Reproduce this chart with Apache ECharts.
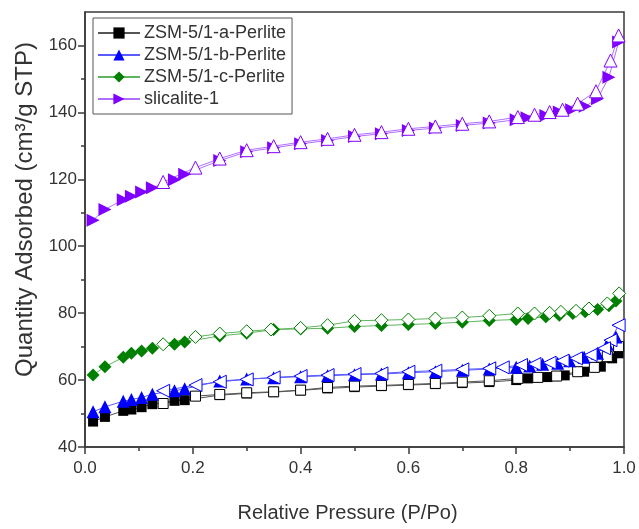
<!DOCTYPE html>
<html>
<head>
<meta charset="utf-8">
<script src="https://cdn.jsdelivr.net/npm/echarts@6/dist/echarts.min.js"></script>
<style>html,body{margin:0;padding:0;background:#fff}#c{width:639px;height:529px}</style>
</head>
<body>
<div id="c"></div>
<script>
// ---- data ----
var seriesNames = ['ZSM-5/1-a-Perlite', 'ZSM-5/1-b-Perlite', 'ZSM-5/1-c-Perlite', 'slicalite-1'];
var xTicks = [0, 0.2, 0.4, 0.6, 0.8, 1.0];
var yTicks = [40, 60, 80, 100, 120, 140, 160];
var yMinorTicks = [50, 70, 90, 110, 130, 150];

var lowP = [0.015, 0.037, 0.071, 0.086, 0.105, 0.125, 0.166, 0.185];
var midP = [0.25, 0.30, 0.35, 0.40, 0.45, 0.50, 0.55, 0.60, 0.65, 0.70, 0.75, 0.80];

// ZSM-5/1-a-Perlite
var aAdsP = lowP.concat(midP, [0.822, 0.858, 0.89, 0.926, 0.957, 0.978, 0.99]);
var aAdsQ = [47.6, 49.0, 50.8, 51.2, 51.9, 52.8, 53.8, 54.0,
             55.5, 56.0, 56.4, 56.9, 57.5, 57.9, 58.2, 58.5, 58.8, 59.1, 59.4, 60.0,
             60.5, 60.9, 61.4, 62.5, 64.0, 66.5, 68.0];
var aDesP = [0.99, 0.969, 0.945, 0.914, 0.875, 0.84, 0.803, 0.75, 0.70, 0.65, 0.60, 0.55, 0.50, 0.45, 0.40, 0.35, 0.30, 0.25, 0.205, 0.145];
var aDesQ = [70.0, 67.0, 63.8, 62.5, 61.2, 60.8, 60.5, 59.8, 59.4, 59.0, 58.7, 58.4, 58.2, 57.8, 57.0, 56.5, 56.2, 55.7, 55.2, 53.0];

// ZSM-5/1-b-Perlite
var bAdsP = lowP.concat(midP, [0.825, 0.849, 0.877, 0.899, 0.926, 0.951, 0.969, 0.985]);
var bAdsQ = [50.5, 52.0, 53.7, 54.2, 54.8, 55.8, 56.8, 57.4,
             59.7, 60.3, 60.7, 61.0, 61.3, 61.6, 61.8, 62.2, 62.5, 62.9, 63.3, 63.8,
             64.2, 64.7, 65.0, 65.8, 66.8, 68.0, 70.7, 72.9];
var bDesP = [0.99, 0.975, 0.963, 0.938, 0.911, 0.886, 0.862, 0.834, 0.809, 0.775, 0.75, 0.70, 0.65, 0.60, 0.55, 0.50, 0.45, 0.40, 0.35, 0.30, 0.25, 0.205, 0.145];
var bDesQ = [76.4, 71.9, 69.5, 67.5, 66.5, 65.8, 65.2, 64.8, 64.5, 63.8, 63.5, 63.2, 62.8, 62.5, 62.0, 61.8, 61.5, 61.2, 60.8, 60.2, 59.5, 58.5, 56.8];

// ZSM-5/1-c-Perlite
var cAdsP = lowP.concat(midP, [0.822, 0.855, 0.88, 0.905, 0.928, 0.951, 0.972, 0.985]);
var cAdsQ = [61.5, 64.0, 66.8, 68.0, 68.7, 69.5, 70.7, 71.4,
             73.2, 74.0, 75.1, 75.3, 75.5, 76.0, 76.3, 76.6, 76.9, 77.3, 77.8, 78.1,
             78.4, 78.9, 79.4, 79.9, 80.4, 81.1, 82.2, 83.6];
var cDesP = [0.991, 0.969, 0.935, 0.911, 0.883, 0.862, 0.834, 0.803, 0.75, 0.70, 0.65, 0.60, 0.55, 0.50, 0.45, 0.40, 0.345, 0.30, 0.25, 0.205, 0.145];
var cDesQ = [85.9, 82.9, 81.4, 80.7, 80.4, 80.1, 79.9, 79.9, 79.2, 78.7, 78.4, 78.1, 77.9, 77.7, 76.4, 75.6, 75.1, 74.6, 73.9, 72.9, 70.7];

// slicalite-1
var sAdsP = lowP.concat(midP, [0.82, 0.855, 0.88, 0.903, 0.928, 0.951, 0.972, 0.99]);
var sAdsQ = [107.8, 111.0, 113.9, 114.9, 116.2, 117.5, 119.9, 121.5,
             125.6, 128.2, 129.4, 130.6, 131.6, 132.8, 133.6, 134.6, 135.3, 136.1, 136.8, 137.8,
             138.4, 139.1, 140.1, 140.8, 141.8, 144.1, 150.5, 161.0];
var sDesP = [0.99, 0.975, 0.948, 0.914, 0.886, 0.862, 0.834, 0.803, 0.75, 0.70, 0.65, 0.60, 0.55, 0.50, 0.45, 0.40, 0.35, 0.30, 0.25, 0.205, 0.145];
var sDesQ = [163.0, 155.5, 146.3, 142.6, 140.8, 140.1, 139.3, 138.6, 137.3, 136.6, 135.8, 135.1, 134.1, 133.3, 132.1, 131.1, 129.9, 128.7, 126.2, 123.5, 119.2];

// ---- build ----
function zip(xs, ys) { return xs.map(function (x, i) { return [x, ys[i]]; }); }

var styles = [
  { line: '#555555', mark: '#000000', ads: 'rect', adsRot: 0, adsSize: 10, des: 'rect', desRot: 0, desSize: 10 },
  { line: '#5a5aff', mark: '#0000ff', ads: 'triangle', adsRot: 0, adsSize: 13, des: 'triangle', desRot: 90, desSize: 13 },
  { line: '#5fb55f', mark: '#007f00', ads: 'diamond', adsRot: 0, adsSize: 13, des: 'diamond', desRot: 0, desSize: 13 },
  { line: '#b070ff', mark: '#8000ff', ads: 'triangle', adsRot: -90, adsSize: 13, des: 'triangle', desRot: 0, desSize: 13 }
];
var adsData = [zip(aAdsP, aAdsQ), zip(bAdsP, bAdsQ), zip(cAdsP, cAdsQ), zip(sAdsP, sAdsQ)];
var desData = [zip(aDesP, aDesQ), zip(bDesP, bDesQ), zip(cDesP, cDesQ), zip(sDesP, sDesQ)];

var series = [];
seriesNames.forEach(function (name, i) {
  var s = styles[i];
  series.push({
    name: name, type: 'line', data: adsData[i],
    symbol: s.ads, symbolSize: s.adsSize, symbolRotate: s.adsRot, showAllSymbol: true,
    lineStyle: { color: s.line, width: 1 },
    itemStyle: { color: s.mark, borderColor: s.mark, borderWidth: 0 },
    emphasis: { disabled: true }, animation: false
  });
  series.push({
    name: name + ' (desorption)', type: 'line', data: desData[i],
    symbol: s.des, symbolSize: s.desSize, symbolRotate: s.desRot, showAllSymbol: true,
    lineStyle: { color: s.line, width: 1 },
    itemStyle: { color: '#ffffff', borderColor: s.mark, borderWidth: 1 },
    emphasis: { disabled: true }, animation: false
  });
});

var chart = echarts.init(document.getElementById('c'), null, { renderer: 'canvas' });
var axisColor = '#3a3a3a';
var textColor = '#333333';
chart.setOption({
  animation: false,
  backgroundColor: '#ffffff',
  grid: { left: 85, right: 15, top: 12, bottom: 82, show: true, borderColor: axisColor, borderWidth: 1.5, backgroundColor: 'transparent' },
  legend: {
    data: seriesNames, orient: 'vertical', left: 93, top: 18,
    padding: [6, 6, 6, 4], itemGap: 4, itemWidth: 42, itemHeight: 14,
    borderColor: '#555', borderWidth: 1, backgroundColor: '#fff',
    textStyle: { fontFamily: 'Liberation Sans, Arial', fontSize: 18, color: textColor, padding: [0, 0, 0, -1] }
  },
  xAxis: {
    type: 'value', min: 0, max: 1, interval: 0.2,
    name: 'Relative Pressure (P/Po)', nameLocation: 'middle', nameGap: 56,
    nameTextStyle: { fontFamily: 'Liberation Sans, Arial', fontSize: 20, color: textColor, padding: [0, 14, 0, 0] },
    axisLine: { show: true, lineStyle: { color: axisColor, width: 1.5 } },
    axisTick: { show: true, inside: false, length: 7, lineStyle: { color: axisColor, width: 1.5 } },
    minorTick: { show: true, splitNumber: 2, length: 4, lineStyle: { color: axisColor, width: 1.5 } },
    splitLine: { show: false },
    axisLabel: { fontFamily: 'Liberation Sans, Arial', fontSize: 17, color: textColor, margin: 13,
      formatter: function (v) { return v.toFixed(1); } }
  },
  yAxis: [{
    type: 'value', min: 40, max: 170, interval: 10,
    name: 'Quantity Adsorbed (cm³/g STP)', nameLocation: 'middle', nameGap: 46,
    nameTextStyle: { fontFamily: 'Liberation Sans, Arial', fontSize: 24, color: textColor, padding: [0, 0, 0, 40] },
    axisLine: { show: true, lineStyle: { color: axisColor, width: 1.5 } },
    axisTick: { show: true, inside: false, length: 7, customValues: yTicks, lineStyle: { color: axisColor, width: 1.5 } },
    splitLine: { show: false },
    axisLabel: { fontFamily: 'Liberation Sans, Arial', fontSize: 17, color: textColor, margin: 8, customValues: yTicks }
  }, {
    type: 'value', min: 40, max: 170, interval: 10, position: 'left',
    axisLine: { show: false },
    axisTick: { show: true, inside: false, length: 4, customValues: yMinorTicks, lineStyle: { color: axisColor, width: 1.5 } },
    axisLabel: { show: false }, splitLine: { show: false }
  }],
  series: series
});
</script>
</body>
</html>
